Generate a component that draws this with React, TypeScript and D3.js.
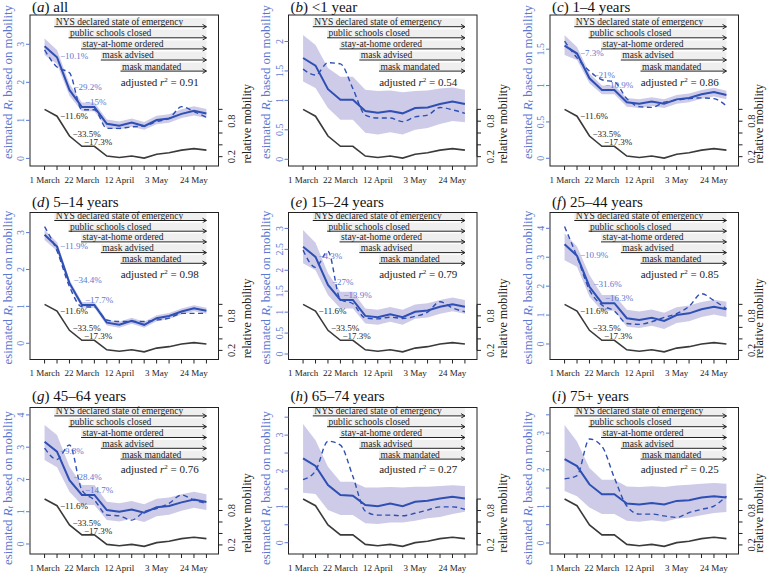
import React from 'react';
import * as d3 from 'd3';

const W = 769;
const H = 573;

// weekly points: 1 March ... 31 May
const weekIndex = [0, 1, 2, 3, 4, 5, 6, 7, 8, 9, 10, 11, 12, 13];
const xTickWeeks = [0, 3, 6, 9, 12];
const xTickLabels = ['1 March', '22 March', '12 April', '3 May', '24 May'];

// relative mobility (shared)
const mobility = [1.0, 0.884, 0.549, 0.376, 0.376, 0.21, 0.185, 0.21, 0.175, 0.24, 0.265, 0.31, 0.335, 0.31];
const mobilityLabels = ['\u221211.6%', '\u221233.5%', '\u221217.3%'];
const mobTicks = [0.2, 0.4, 0.6, 0.8, 1.0];
const mobTickLabels = [0.2, 0.8];

const eventLabels = ['NYS declared state of emergency', 'public schools closed', 'stay-at-home ordered', 'mask advised', 'mask mandated'];
const eventStartWeeks = [0.78, 1.93, 2.93, 4.52, 6.1];
const eventEndWeek = 13;

const titlesLetter = ['a', 'b', 'c', 'd', 'e', 'f', 'g', 'h', 'i'];
const titlesText = ['all', '<1 year', '1\u20134 years', '5\u201314 years', '15\u201324 years', '25\u201344 years', '45\u201364 years', '65\u201374 years', '75+ years'];
const r2Values = ['0.91', '0.54', '0.86', '0.98', '0.79', '0.85', '0.76', '0.27', '0.25'];

// (a) all
const meanA = [2.95, 2.66, 1.80, 1.35, 1.35, 0.91, 0.86, 0.94, 0.85, 1.01, 1.05, 1.17, 1.25, 1.18];
const lowA = [2.72, 2.48, 1.65, 1.24, 1.24, 0.80, 0.76, 0.83, 0.75, 0.90, 0.94, 1.06, 1.13, 1.06];
const upA = [3.15, 2.85, 1.96, 1.47, 1.47, 1.02, 0.97, 1.05, 0.96, 1.12, 1.16, 1.29, 1.37, 1.30];
const dashA = [2.85, 2.40, 2.25, 1.28, 1.28, 0.79, 0.79, 0.83, 0.85, 0.97, 1.05, 1.36, 1.23, 1.08];
const pctA = ['\u221210.1%', '\u221229.2%', '\u221215%'];
// (b) <1 year
const meanB = [1.72, 1.59, 1.19, 1.01, 1.01, 0.82, 0.79, 0.82, 0.78, 0.87, 0.88, 0.94, 0.98, 0.94];
const lowB = [1.32, 1.21, 0.87, 0.67, 0.67, 0.45, 0.42, 0.46, 0.42, 0.50, 0.53, 0.60, 0.65, 0.63];
const upB = [2.11, 1.94, 1.55, 1.40, 1.40, 1.18, 1.16, 1.17, 1.14, 1.16, 1.17, 1.20, 1.22, 1.18];
const dashB = [1.53, 1.43, 1.64, 1.62, 1.20, 0.75, 0.70, 0.70, 0.64, 0.72, 0.75, 0.88, 0.84, 0.78];
// (c) 1-4 years
const meanC = [1.55, 1.44, 1.10, 0.94, 0.94, 0.77, 0.75, 0.78, 0.75, 0.81, 0.83, 0.88, 0.91, 0.87];
const lowC = [1.42, 1.35, 1.03, 0.88, 0.88, 0.71, 0.69, 0.72, 0.69, 0.75, 0.77, 0.82, 0.85, 0.81];
const upC = [1.69, 1.53, 1.17, 1.00, 1.00, 0.83, 0.81, 0.84, 0.81, 0.87, 0.89, 0.94, 0.97, 0.93];
const dashC = [1.61, 1.38, 1.20, 1.08, 1.05, 0.82, 0.71, 0.70, 0.77, 0.80, 0.82, 0.83, 0.82, 0.72];
const pctC = ['\u22127.3%', '\u221221%', '\u221210.9%'];
// (d) 5-14 years
const meanD = [2.94, 2.62, 1.63, 1.04, 1.04, 0.56, 0.50, 0.61, 0.50, 0.68, 0.74, 0.86, 0.95, 0.88];
const lowD = [2.80, 2.50, 1.54, 0.96, 0.96, 0.48, 0.42, 0.53, 0.42, 0.60, 0.66, 0.78, 0.87, 0.80];
const upD = [3.08, 2.74, 1.72, 1.12, 1.12, 0.64, 0.58, 0.69, 0.58, 0.76, 0.82, 0.94, 1.03, 0.96];
const dashD = [3.16, 2.50, 1.54, 0.99, 0.98, 0.63, 0.59, 0.59, 0.59, 0.63, 0.68, 0.81, 0.81, 0.81];
const pctD = ['\u221211.9%', '\u221234.4%', '\u221217.7%'];
// (e) 15-24 years
const meanE = [2.56, 2.32, 1.65, 1.29, 1.29, 0.91, 0.88, 0.95, 0.88, 1.01, 1.04, 1.13, 1.19, 1.13];
const lowE = [2.17, 2.00, 1.41, 1.09, 1.09, 0.73, 0.70, 0.77, 0.70, 0.84, 0.87, 0.96, 1.02, 0.96];
const upE = [2.96, 2.66, 1.93, 1.49, 1.49, 1.09, 1.06, 1.12, 1.06, 1.18, 1.21, 1.29, 1.35, 1.29];
const dashE = [2.48, 2.07, 2.45, 1.30, 1.20, 0.86, 0.84, 0.88, 0.85, 0.90, 1.00, 1.25, 1.10, 1.01];
const pctE = ['\u22124.3%', '\u221227%', '\u221213.9%'];
// (f) 25-44 years
const meanF = [3.45, 3.05, 1.98, 1.41, 1.41, 0.89, 0.83, 0.91, 0.80, 1.00, 1.06, 1.20, 1.29, 1.20];
const lowF = [2.90, 2.67, 1.64, 1.15, 1.15, 0.60, 0.55, 0.63, 0.52, 0.73, 0.79, 0.93, 1.02, 0.93];
const upF = [3.83, 3.37, 2.39, 1.69, 1.69, 1.18, 1.12, 1.19, 1.08, 1.27, 1.33, 1.45, 1.53, 1.46];
const dashF = [4.06, 3.02, 1.87, 1.35, 1.14, 0.71, 0.68, 0.77, 0.92, 1.05, 1.30, 1.74, 1.50, 1.22];
const pctF = ['\u221210.9%', '\u221231.6%', '\u221216.3%'];
// (g) 45-64 years
const meanG = [3.17, 2.86, 1.98, 1.52, 1.52, 1.05, 1.00, 1.07, 0.97, 1.14, 1.18, 1.29, 1.38, 1.30];
const lowG = [2.60, 2.38, 1.62, 1.21, 1.21, 0.74, 0.70, 0.78, 0.68, 0.86, 0.91, 1.03, 1.12, 1.05];
const upG = [3.69, 3.38, 2.40, 1.83, 1.83, 1.31, 1.26, 1.33, 1.23, 1.40, 1.44, 1.54, 1.62, 1.54];
const dashG = [2.97, 2.62, 3.07, 1.67, 1.36, 0.90, 0.87, 0.74, 1.00, 1.10, 1.26, 1.52, 1.36, 1.26];
const pctG = ['\u22129.8%', '\u221228.4%', '\u221214.7%'];
// (h) 65-74 years
const meanH = [2.35, 2.14, 1.61, 1.33, 1.31, 1.05, 1.02, 1.09, 1.02, 1.14, 1.17, 1.23, 1.28, 1.23];
const lowH = [1.39, 1.36, 0.91, 0.77, 0.77, 0.54, 0.52, 0.56, 0.56, 0.61, 0.68, 0.72, 0.80, 0.86];
const upH = [3.31, 2.86, 2.12, 1.70, 1.70, 1.54, 1.54, 1.55, 1.54, 1.56, 1.56, 1.58, 1.60, 1.58];
const dashH = [1.76, 2.00, 2.83, 2.72, 1.85, 0.88, 0.77, 0.77, 0.75, 0.82, 0.91, 1.00, 1.00, 0.93];
// (i) 75+ years
const meanI = [2.29, 2.10, 1.60, 1.33, 1.33, 1.08, 1.05, 1.09, 1.05, 1.15, 1.17, 1.24, 1.28, 1.24];
const lowI = [1.42, 1.28, 0.97, 0.79, 0.79, 0.61, 0.58, 0.62, 0.58, 0.66, 0.70, 0.76, 0.82, 0.85];
const upI = [3.22, 2.77, 2.05, 1.73, 1.73, 1.54, 1.53, 1.55, 1.53, 1.57, 1.59, 1.62, 1.64, 1.62];
const dashI = [1.75, 1.84, 2.84, 2.64, 1.78, 1.01, 0.79, 0.79, 0.74, 0.70, 0.83, 0.92, 1.01, 1.28];

// left-axis ticks per panel
const ticksA = [0, 1, 2, 3];
const ticksB = [0, 0.5, 1, 1.5, 2];
const ticksC = [0, 0.5, 1, 1.5];
const ticksD = [0, 1, 2, 3];
const ticksE = [0, 0.5, 1, 1.5, 2, 2.5, 3];
const ticksF = [0, 1, 2, 3, 4];
const ticksG = [0, 1, 2, 3, 4];
const ticksH = [0, 0.5, 1, 1.5, 2, 2.5, 3, 3.5];
const ticksI = [0, 0.5, 1, 1.5, 2, 2.5, 3, 3.5];

// y-limits of each panel (left axis)
const yLimA = [-0.2, 3.77];
const yLimB = [-0.114, 2.45];
const yLimC = [-0.106, 1.97];
const yLimD = [-0.44, 3.545];
const yLimE = [-0.131, 3.38];
const yLimF = [-0.536, 4.547];
const yLimG = [-0.31, 4.23];
const yLimH = [-0.315, 3.77];
const yLimI = [-0.3, 3.70];
const mobLim = [0.042, 2.596];
const xLim = [-1.17, 13.97];

const panels = [
  { mean: meanA, low: lowA, up: upA, dash: dashA, pct: pctA, ticks: ticksA, yLim: yLimA, mob: true },
  { mean: meanB, low: lowB, up: upB, dash: dashB, pct: null, ticks: ticksB, yLim: yLimB, mob: false },
  { mean: meanC, low: lowC, up: upC, dash: dashC, pct: pctC, ticks: ticksC, yLim: yLimC, mob: true },
  { mean: meanD, low: lowD, up: upD, dash: dashD, pct: pctD, ticks: ticksD, yLim: yLimD, mob: true },
  { mean: meanE, low: lowE, up: upE, dash: dashE, pct: pctE, ticks: ticksE, yLim: yLimE, mob: true },
  { mean: meanF, low: lowF, up: upF, dash: dashF, pct: pctF, ticks: ticksF, yLim: yLimF, mob: true },
  { mean: meanG, low: lowG, up: upG, dash: dashG, pct: pctG, ticks: ticksG, yLim: yLimG, mob: true },
  { mean: meanH, low: lowH, up: upH, dash: dashH, pct: null, ticks: ticksH, yLim: yLimH, mob: false },
  { mean: meanI, low: lowI, up: upI, dash: dashI, pct: null, ticks: ticksI, yLim: yLimI, mob: false },
];

// layout
const colLeft = [30, 288.5, 550];
const boxW = 188.5;
const rowTop = [15, 212.5, 407.5];
const rowBottom = [166, 359.5, 554];
const titleLift = [3, 5.5, 6.5];
const yTitleCenter = [82, 287.5, 488];
const rightTitleX = [246.5, 503, 759];
const eventOffset = [11.7, 8, 8.4];
const eventGap = [11.1, 10.7, 10.8];

const FONT = "'Liberation Serif', 'Times New Roman', Times, serif";
const BLUE = '#2e4fb3';
const BLUE_TXT = '#5c77d0';
const BAND = '#cdcbe8';
const GREY = '#3a3a3a';

const pctOff = [[3, 0], [4, -2], [3, -4]];
const mobOff = [[3, 1], [3, -1], [2, -3]];

function fmt(v: number) {
  return String(v);
}

function Panel({ idx }: { idx: number }) {
  const p = panels[idx];
  const col = idx % 3;
  const row = Math.floor(idx / 3);
  const left = colLeft[col];
  const right = left + boxW;
  const top = rowTop[row];
  const bottom = rowBottom[row];
  const x = d3.scaleLinear().domain(xLim).range([left, right]);
  const y = d3.scaleLinear().domain(p.yLim).range([bottom, top]);
  const m = d3.scaleLinear().domain(mobLim).range([bottom, top]);

  const line = d3.line<number>().x((_, i) => x(weekIndex[i])).y((d) => y(d));
  const dashLine = d3.line<number>().x((_, i) => x(weekIndex[i])).y((d) => y(d)).curve(d3.curveMonotoneX);
  const mobLine = d3.line<number>().x((_, i) => x(weekIndex[i])).y((d) => m(d));
  const area = d3
    .area<number>()
    .x((_, i) => x(weekIndex[i]))
    .y0((_, i) => y(p.low[i]))
    .y1((_, i) => y(p.up[i]));

  const evY = (i: number) => top + eventOffset[row] + i * eventGap[row];
  const xEnd = x(eventEndWeek);
  const ah = 4.5;
  const c30 = Math.cos(Math.PI / 6) * ah;
  const s30 = Math.sin(Math.PI / 6) * ah;

  return (
    <g style={{ fontFamily: FONT }}>
      {/* title */}
      <text x={left + 2} y={top - titleLift[row]} fontSize={15} fill="#111">
        (<tspan fontStyle="italic">{titlesLetter[idx]}</tspan>) {titlesText[idx]}
      </text>

      {/* band, lines */}
      <path d={area(p.mean) || ''} fill={BAND} stroke="none" />
      <path d={dashLine(p.dash) || ''} fill="none" stroke={BLUE} strokeWidth={1.4} strokeDasharray="5,3.5" />
      <path d={line(p.mean) || ''} fill="none" stroke={BLUE} strokeWidth={2} />
      <path d={mobLine(mobility) || ''} fill="none" stroke={GREY} strokeWidth={1.6} />

      {/* percentage labels */}
      {p.pct &&
        p.pct.map((t, j) => (
          <text
            key={'p' + j}
            x={x(weekIndex[j + 1]) + pctOff[j][0]}
            y={y(p.mean[j + 1]) + pctOff[j][1]}
            dominantBaseline="middle"
            fontSize={9}
            fill={BLUE_TXT}
          >
            {t}
          </text>
        ))}
      {p.mob &&
        mobilityLabels.map((t, j) => (
          <text
            key={'m' + j}
            x={x(weekIndex[j + 1]) + mobOff[j][0]}
            y={m(mobility[j + 1]) + mobOff[j][1]}
            dominantBaseline="middle"
            fontSize={9}
            fill="#222"
          >
            {t}
          </text>
        ))}

      {/* events */}
      {eventLabels.map((t, i) => {
        const xs = x(eventStartWeeks[i]);
        const yy = evY(i);
        return (
          <g key={'e' + i}>
            <rect x={xs} y={yy - 8.5} width={xEnd - xs} height={8} fill="#efefef" />
            <line x1={xs} x2={xEnd} y1={yy} y2={yy} stroke="#222" strokeWidth={1} />
            <path
              d={`M${xEnd - c30},${yy - s30}L${xEnd},${yy}L${xEnd - c30},${yy + s30}`}
              fill="none"
              stroke="#222"
              strokeWidth={1}
            />
            <text x={xs + 1.5} y={yy - 1.6} fontSize={9.5} fill="#222">
              {t}
            </text>
          </g>
        );
      })}
      <text x={x(9.25)} y={evY(5) + 3.5} fontSize={11} fill="#222" textAnchor="middle">
        adjusted <tspan fontStyle="italic">r</tspan>
        <tspan dy={-4} fontSize={7}>2</tspan>
        <tspan dy={4}> = {r2Values[idx]}</tspan>
      </text>

      {/* box */}
      <rect x={left} y={top} width={boxW} height={bottom - top} fill="none" stroke="#222" strokeWidth={1} />

      {/* x axis */}
      {weekIndex.map((w) => (
        <line key={'xt' + w} x1={x(w)} x2={x(w)} y1={bottom} y2={bottom + 4} stroke="#222" strokeWidth={1} />
      ))}
      {xTickWeeks.map((w, i) => (
        <text key={'xl' + w} x={x(w)} y={bottom + 16.5} fontSize={9} textAnchor="middle" fill="#222">
          {xTickLabels[i]}
        </text>
      ))}

      {/* left axis */}
      {p.ticks.map((v) => (
        <line key={'yt' + v} x1={left - 4} x2={left} y1={y(v)} y2={y(v)} stroke={BLUE_TXT} strokeWidth={1} />
      ))}
      {p.ticks
        .filter((v) => (p.ticks.length > 7 ? Number.isInteger(v) : true))
        .map((v) => (
          <text
            key={'yl' + v}
            transform={`translate(${left - 6},${y(v)}) rotate(-90)`}
            textAnchor="middle"
            fontSize={10}
            fill={BLUE_TXT}
          >
            {fmt(v)}
          </text>
        ))}
      <text
        transform={`translate(${left - 22.5},${yTitleCenter[row]}) rotate(-90)`}
        textAnchor="middle"
        dominantBaseline="central"
        fontSize={12.8}
        fill={BLUE_TXT}
      >
        esimated <tspan fontStyle="italic">R</tspan>
        <tspan fontStyle="italic" fontSize={9} dy={2.5}>t</tspan>
        <tspan dy={-2.5}> based on mobility</tspan>
      </text>

      {/* right axis */}
      <line x1={right} x2={right} y1={m(mobTicks[0])} y2={m(mobTicks[mobTicks.length - 1])} stroke="#222" />
      {mobTicks.map((v) => (
        <line key={'rt' + v} x1={right} x2={right + 4} y1={m(v)} y2={m(v)} stroke="#222" strokeWidth={1} />
      ))}
      {mobTickLabels.map((v) => (
        <text
          key={'rl' + v}
          transform={`translate(${right + 16.5},${m(v)}) rotate(-90)`}
          textAnchor="middle"
          fontSize={10.5}
          fill="#222"
        >
          {v.toFixed(1)}
        </text>
      ))}
      <text
        transform={`translate(${rightTitleX[col]},${top + 0.72 * (bottom - top)}) rotate(-90)`}
        textAnchor="middle"
        dominantBaseline="central"
        fontSize={12}
        fill="#222"
      >
        relative mobility
      </text>
    </g>
  );
}

export default function App() {
  return (
    <svg
      width={W}
      height={H}
      viewBox={`0 0 ${W} ${H}`}
      style={{ position: 'absolute', left: 0, top: 0, background: '#fff', fontFamily: FONT }}
    >
      <rect x={0} y={0} width={W} height={H} fill="#fff" />
      {panels.map((_, i) => (
        <Panel key={i} idx={i} />
      ))}
    </svg>
  );
}
